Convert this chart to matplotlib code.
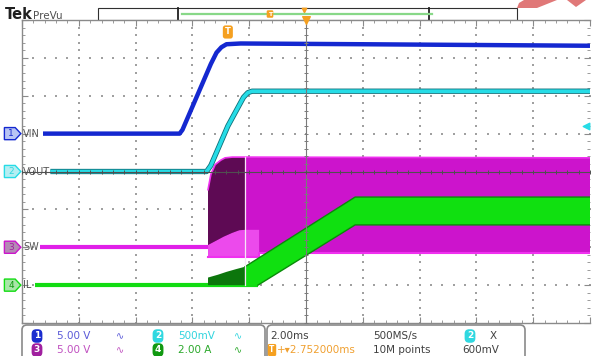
import numpy as np
import matplotlib
matplotlib.use('Agg')
import matplotlib.pyplot as plt
from matplotlib.patches import Polygon, FancyBboxPatch, Rectangle

# base de tempo (ms por divisao) e trigger
t_por_div = 2.0
trig_pos = -2.752
trig_nivel = 0.6

# canais
ch_nomes = ['VIN', 'VOUT', 'SW', 'IL']
ch_escala = [5.0, 0.5, 5.0, 2.0]
ch_offset = [1.0, 0.0, -2.0, -3.0]
ch_cores = ['#1428d0', '#26dce6', '#cc14cc', '#12dc12']
ch_claros = ['#b8c4f4', '#b4eef2', '#b48ab4', '#a8e6a8']
ch_rotulos = ['5.00 V', '500mV', '5.00 V', '2.00 A']
ch_txt_cores = ['#5a5ad8', '#30d4de', '#c050c0', '#2aa82a']
ch_pill = ['#1a2ccf', '#30d8e0', '#a0209f', '#119911']

# VIN (V)
vin_t = [-9.26, -4.45, -4.35, -3.35, -3.15, -2.98, -2.8, -2.3, 2.0, 10.0]
vin_v = [0, 0, 0.5, 9.2, 10.7, 11.4, 11.8, 11.9, 11.8, 11.6]

# VOUT (V)
vout_t = [-9.0, -3.5, -3.35, -2.752, -2.2, -2.05, -1.9, 10.0]
vout_v = [0, 0, 0.08, 0.6, 0.98, 1.04, 1.06, 1.06]

# SW (V): nivel baixo e envelope do chaveamento
sw_t = [-9.37, -3.45]
sw_v = [0, 0]
sw_env_t = [-3.45, -3.35, -3.2, -3.0, -2.85, -2.6, -2.15, 10.0]
sw_topo = [7.6, 9.6, 10.9, 11.5, 11.8, 11.9, 11.9, 11.8]
sw_base_t = [-3.45, -1.65, -1.65, 10.0]
sw_base = [-1.3, -1.3, -0.7, -0.7]
sw_hump_t = [-3.45, -3.2, -2.9, -2.6, -2.35, -2.15, -1.65]
sw_hump_v = [0.3, 0.8, 1.4, 1.9, 2.25, 2.3, 2.3]
sw_marca_t = -2.15

# IL (A)
il_t = [-9.54, -1.69]
il_v = [0, 0]
il_esc_t = [-3.45, -3.45, -3.1, -2.8, -2.45, -2.15, -2.15]
il_esc_v = [0, 0.4, 0.55, 0.7, 0.85, 0.97, 0]
il_faixa_t = [-2.15, 1.73, 10.0, 10.0, 1.73, -1.69, -2.15]
il_faixa_v = [0.97, 4.65, 4.65, 3.18, 3.18, 0, 0]


def em_div(valores, canal):
    return [v / ch_escala[canal] + ch_offset[canal] for v in valores]


fig = plt.figure(figsize=(5.92, 3.56), dpi=100)
fig.patch.set_facecolor('white')

ov = fig.add_axes([0, 0, 1, 1])
ov.set_xlim(0, 592)
ov.set_ylim(356, 0)
ov.axis('off')

ax = fig.add_axes([22 / 592, 33 / 356, 568 / 592, 303 / 356])
ax.set_xlim(-5 * t_por_div, 5 * t_por_div)
ax.set_ylim(-4, 4)
ax.set_xticks(np.arange(-10, 10.1, 2))
ax.set_xticks(np.arange(-10, 10.1, 0.4), minor=True)
ax.set_yticks(np.arange(-4, 4.1, 1))
ax.set_yticks(np.arange(-4, 4.1, 0.2), minor=True)
ax.tick_params(which='both', direction='in', top=True, right=True,
               labelbottom=False, labelleft=False, color='#8a8a8a')
ax.tick_params(which='major', length=4, width=0.8)
ax.tick_params(which='minor', length=2.5, width=0.6)
for lado in ax.spines.values():
    lado.set_color('#8a8a8a')
    lado.set_linewidth(1.0)
ax.spines['right'].set_visible(False)

# grade pontilhada
for xv in np.arange(-8, 9, 2):
    if xv == 0:
        continue
    ys = np.arange(-4, 4.01, 0.2)
    ax.scatter(np.full_like(ys, xv), ys, s=1.4, color='#a0a0a0', marker='s', linewidths=0, zorder=1)
for yv in range(-3, 4):
    if yv == 0:
        continue
    xs = np.arange(-10, 10.01, 0.4)
    ax.scatter(xs, np.full_like(xs, yv), s=1.4, color='#a0a0a0', marker='s', linewidths=0, zorder=1)

# SW
ax.fill(sw_env_t + sw_base_t[::-1], em_div(sw_topo, 2) + em_div(sw_base, 2)[::-1],
        color='#cc14cc', lw=0, zorder=2)
ax.fill(sw_hump_t + [-1.65, -3.45], em_div(sw_hump_v + [-1.3, -1.3], 2),
        color='#ec4aec', lw=0, zorder=3)
ax.fill(sw_env_t[:7] + sw_hump_t[:6][::-1], em_div(sw_topo[:7] + sw_hump_v[:6][::-1], 2),
        color='#5e0a54', lw=0, zorder=3)
ax.plot(sw_env_t, em_div(sw_topo, 2), color='#f030f0', lw=1.2, zorder=3)
ax.plot(sw_base_t, em_div(sw_base, 2), color='#f030f0', lw=1.5, zorder=3)
ax.plot(sw_t, em_div(sw_v, 2), color='#e020e8', lw=3, solid_capstyle='butt', zorder=4)

# IL
ax.plot(il_t, em_div(il_v, 3), color=ch_cores[3], lw=3, solid_capstyle='butt', zorder=4)
ax.fill(il_esc_t, em_div(il_esc_v, 3), color='#0c760c', lw=0, zorder=4)
ax.fill(il_faixa_t, em_div(il_faixa_v, 3), color='#10e010', lw=0, zorder=4)
ax.plot(il_faixa_t[:3], em_div(il_faixa_v[:3], 3), color='#0a8a0a', lw=1, zorder=4)
ax.plot(il_faixa_t[3:6], em_div(il_faixa_v[3:6], 3), color='#0a8a0a', lw=1, zorder=4)

ax.plot([sw_marca_t, sw_marca_t], [em_div([11.9], 2)[0], em_div([0], 3)[0]],
        color='#f6e6f6', lw=0.9, zorder=5)

# VOUT
ax.plot(vout_t, em_div(vout_v, 1), color='#0e6e78', lw=3.8, zorder=6, solid_capstyle='butt')
ax.plot(vout_t, em_div(vout_v, 1), color=ch_cores[1], lw=2.6, zorder=6, solid_capstyle='butt')

# VIN
ax.plot(vin_t, em_div(vin_v, 0), color=ch_cores[0], lw=3.2, zorder=6, solid_capstyle='butt')

# cruz central
ax.axvline(0, color='#7a7a7a', lw=0.8, zorder=8)
ax.axhline(0, color='#505050', lw=0.8, zorder=8)
ys = np.arange(-4, 4.01, 0.2)
ax.scatter(np.zeros_like(ys), ys, marker='_', s=8, color='#7a7a7a', linewidths=0.7, zorder=8)
xs = np.arange(-10, 10.01, 0.4)
ax.scatter(xs, np.zeros_like(xs), marker='|', s=8, color='#505050', linewidths=0.7, zorder=8)

# marcadores de canal
tr = ax.get_yaxis_transform()
for i, nome in enumerate(ch_nomes):
    y0 = ch_offset[i]
    h = 0.16
    pent = Polygon([(-0.031, y0 - h), (-0.012, y0 - h), (-0.002, y0), (-0.012, y0 + h), (-0.031, y0 + h)],
                   closed=True, transform=tr, clip_on=False, fc=ch_claros[i], ec=ch_cores[i], lw=1, zorder=9)
    ax.add_patch(pent)
    ax.text(-0.019, y0, str(i + 1), transform=tr, ha='center', va='center', fontsize=6.5,
            color=ch_pill[i], clip_on=False, zorder=10)
    ax.text(0.002, y0, nome, transform=tr, ha='left', va='center', fontsize=7,
            color='#555555', zorder=10)

# nivel do trigger (canal 2)
ax.scatter([9.85], em_div([trig_nivel], 1), marker='<', s=22, color=ch_cores[1], zorder=9, clip_on=False)

# posicao do trigger e ponto de expansao
ax.text(trig_pos, 1 - 12 / 303, 'T', transform=ax.get_xaxis_transform(), ha='center', va='center',
        fontsize=6, fontweight='bold', color='white', zorder=10,
        bbox=dict(boxstyle='round,pad=0.25,rounding_size=0.3', fc='#f5a020', ec='none'))
ax.scatter([0], [4], marker='v', s=30, color='#f5a020', zorder=10, clip_on=False)

# cabecalho
ov.text(5, 19, 'Tek', fontsize=10.5, fontweight='bold', color='#202020', va='baseline')
ov.text(33, 19, 'PreVu', fontsize=7.5, color='#505050', va='baseline')
ov.add_patch(Rectangle((98, 8), 419, 12, fc='white', ec='#303030', lw=0.8))
ov.plot([178, 178], [8, 20], color='#202020', lw=1.3)
ov.plot([429, 429], [8, 20], color='#202020', lw=1.3)
ov.plot([182, 432], [14, 14], color='#88d888', lw=1.6)
ov.text(270, 14, 'T', fontsize=4.5, fontweight='bold', color='white', ha='center', va='center',
        bbox=dict(boxstyle='round,pad=0.2,rounding_size=0.2', fc='#f5a020', ec='none'))
ov.scatter([304], [10], marker='v', s=10, color='#f5a020')

# marca vermelha no canto
ov.add_patch(Polygon([(517, 8), (519, 3), (524, 0), (557, 0), (537, 8)], closed=True,
                     fc='#e07878', ec='none'))
ov.add_patch(Polygon([(567, 0), (586, 0), (576, 7)], closed=True, fc='#e07878', ec='none'))

# rodape
ov.add_patch(FancyBboxPatch((22, 325), 243, 40, boxstyle='round,pad=0,rounding_size=5',
                            fc='white', ec='#8a8a8a', lw=1.2))
ov.add_patch(FancyBboxPatch((267, 325), 258, 40, boxstyle='round,pad=0,rounding_size=5',
                            fc='white', ec='#8a8a8a', lw=1.2))

linhas_y = [336, 350]
pos_col = [(37, 57, 120), (158, 178, 238)]
ordem = [[0, 1], [2, 3]]
for r, canais in enumerate(ordem):
    for c, i in enumerate(canais):
        xp, xt, xs_ = pos_col[c]
        ov.text(xp, linhas_y[r], str(i + 1), fontsize=6.5, fontweight='bold', color='white',
                ha='center', va='center',
                bbox=dict(boxstyle='round,pad=0.25,rounding_size=0.5', fc=ch_pill[i], ec='none'))
        ov.text(xt, linhas_y[r], ch_rotulos[i], fontsize=7.5, color=ch_txt_cores[i], va='center')
        ov.text(xs_, linhas_y[r], '\u223f', fontsize=7, color=ch_txt_cores[i], va='center', ha='center')

cinza = '#404040'
ov.text(270, linhas_y[0], '2.00ms', fontsize=7.5, color=cinza, va='center')
ov.text(373, linhas_y[0], '500MS/s', fontsize=7.5, color=cinza, va='center')
ov.text(470, linhas_y[0], '2', fontsize=6.5, fontweight='bold', color='white', ha='center', va='center',
        bbox=dict(boxstyle='round,pad=0.25,rounding_size=0.5', fc=ch_pill[1], ec='none'))
ov.text(490, linhas_y[0], 'X', fontsize=7.5, color=cinza, va='center')
ov.text(272, linhas_y[1], 'T', fontsize=5.5, fontweight='bold', color='white', ha='center', va='center',
        bbox=dict(boxstyle='round,pad=0.2,rounding_size=0.2', fc='#f5a020', ec='none'))
ov.text(277, linhas_y[1], '+\u25be%.6fms' % -trig_pos, fontsize=7.5, color='#f0a030', va='center')
ov.text(373, linhas_y[1], '10M points', fontsize=7.5, color=cinza, va='center')
ov.text(462, linhas_y[1], '600mV', fontsize=7.5, color=cinza, va='center')

plt.savefig('out.png', dpi=100)
